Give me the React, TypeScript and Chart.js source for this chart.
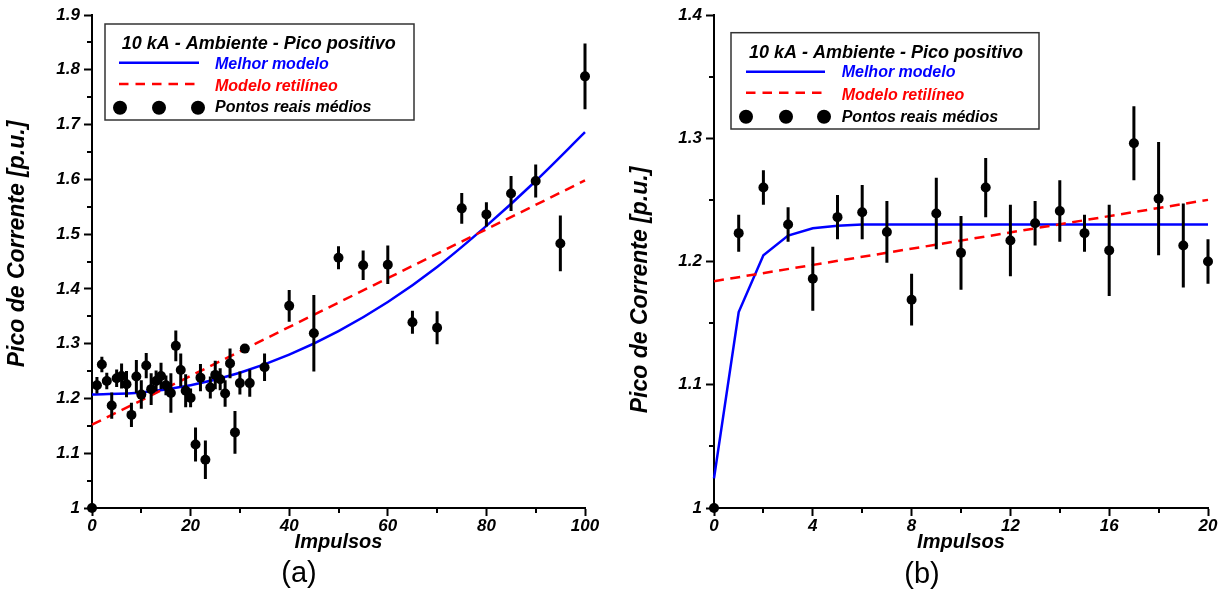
import React, { useEffect, useRef } from "react";
import { Chart, registerables } from "chart.js";
Chart.register(...registerables);

const FONT = "'Liberation Sans', Arial, Helvetica, sans-serif";

// ---------- (a) data ----------
const impulsosA = [0, 1, 2, 3, 4, 5, 6, 7, 8, 9, 10, 11, 12, 13, 14, 15, 16, 17, 18, 19, 20, 21, 22, 23, 24, 25, 26, 27, 28, 29, 30, 31, 32, 35, 40, 45, 50, 55, 60, 65, 70, 75, 80, 85, 90, 95, 100];
const picoA = [1.000, 1.224, 1.262, 1.232, 1.187, 1.237, 1.241, 1.226, 1.170, 1.240, 1.207, 1.260, 1.217, 1.232, 1.241, 1.224, 1.210, 1.296, 1.252, 1.214, 1.201, 1.116, 1.238, 1.088, 1.220, 1.243, 1.235, 1.209, 1.264, 1.138, 1.228, 1.291, 1.228, 1.257, 1.369, 1.319, 1.457, 1.443, 1.444, 1.339, 1.329, 1.547, 1.536, 1.574, 1.597, 1.483, 1.788];
const erroA = [0, 0.015, 0.014, 0.015, 0.024, 0.016, 0.023, 0.024, 0.022, 0.030, 0.026, 0.023, 0.029, 0.019, 0.024, 0.018, 0.036, 0.028, 0.030, 0.030, 0.017, 0.031, 0.025, 0.035, 0.020, 0.026, 0.020, 0.024, 0.027, 0.039, 0.021, 0.005, 0.025, 0.025, 0.029, 0.070, 0.021, 0.027, 0.035, 0.021, 0.030, 0.028, 0.022, 0.032, 0.030, 0.051, 0.060];
const melhorXA = [0, 10, 20, 30, 40, 50, 60, 70, 80, 90, 100];
const melhorYA = [1.207, 1.211, 1.224, 1.247, 1.280, 1.323, 1.376, 1.440, 1.515, 1.597, 1.686];
const retaXA = [0, 100];
const retaYA = [1.152, 1.598];
const xTicksA = [0, 20, 40, 60, 80, 100];
const xLabelsA = ["0", "20", "40", "60", "80", "100"];
const xMinorA = [10, 30, 50, 70, 90];
const yTicksA = [1, 1.1, 1.2, 1.3, 1.4, 1.5, 1.6, 1.7, 1.8, 1.9];
const yLabelsA = ["1", "1.1", "1.2", "1.3", "1.4", "1.5", "1.6", "1.7", "1.8", "1.9"];
const yMinorA = [1.05, 1.15, 1.25, 1.35, 1.45, 1.55, 1.65, 1.75, 1.85];

// ---------- (b) data ----------
const impulsosB = [0, 1, 2, 3, 4, 5, 6, 7, 8, 9, 10, 11, 12, 13, 14, 15, 16, 17, 18, 19, 20];
const picoB = [1.000, 1.223, 1.260, 1.230, 1.186, 1.236, 1.240, 1.224, 1.169, 1.239, 1.207, 1.260, 1.217, 1.231, 1.241, 1.223, 1.209, 1.296, 1.251, 1.213, 1.200];
const erroB = [0, 0.015, 0.014, 0.014, 0.026, 0.018, 0.022, 0.025, 0.021, 0.029, 0.030, 0.024, 0.029, 0.018, 0.025, 0.015, 0.037, 0.030, 0.046, 0.034, 0.018];
const melhorXB = [0, 1, 2, 3, 4, 5, 6, 7, 8, 9, 10, 11, 12, 13, 14, 15, 16, 17, 18, 19, 20];
const melhorYB = [1.024, 1.159, 1.205, 1.221, 1.227, 1.229, 1.230, 1.230, 1.230, 1.230, 1.230, 1.230, 1.230, 1.230, 1.230, 1.230, 1.230, 1.230, 1.230, 1.230, 1.230];
const retaXB = [0, 20];
const retaYB = [1.184, 1.250];
const xTicksB = [0, 4, 8, 12, 16, 20];
const xLabelsB = ["0", "4", "8", "12", "16", "20"];
const xMinorB = [2, 6, 10, 14, 18];
const yTicksB = [1, 1.1, 1.2, 1.3, 1.4];
const yLabelsB = ["1", "1.1", "1.2", "1.3", "1.4"];
const yMinorB = [1.05, 1.15, 1.25, 1.35];

// ---------- texts ----------
const legendTitle = "10 kA - Ambiente - Pico positivo";
const legendItems = ["Melhor modelo", "Modelo retilíneo", "Pontos reais médios"];
const xTitle = "Impulsos";
const yTitle = "Pico de Corrente [p.u.]";

const BLUE = "#0000ff";
const RED = "#ff0000";
const MAJOR = 8;
const MINOR = 5;

type Spec = {
  xs: number[]; ys: number[]; errs: number[];
  mx: number[]; my: number[]; tension: number;
  rx: number[]; ry: number[];
  xMax: number; yMax: number;
  xTicks: number[]; xLabels: string[]; xMinor: number[];
  yTicks: number[]; yLabels: string[]; yMinor: number[];
  padRight: number; yWidth: number;
  yTitlePos: [number, number];
  panel: string; panelPos: [number, number];
  leg: any;
};

function drawLegend(ctx: CanvasRenderingContext2D, L: any) {
  ctx.save();
  ctx.fillStyle = "#fff";
  ctx.fillRect(L.box[0], L.box[1], L.box[2] - L.box[0], L.box[3] - L.box[1]);
  ctx.strokeStyle = "#333";
  ctx.lineWidth = 1.5;
  ctx.strokeRect(L.box[0], L.box[1], L.box[2] - L.box[0], L.box[3] - L.box[1]);
  ctx.textAlign = "left";
  ctx.textBaseline = "alphabetic";
  ctx.fillStyle = "#000";
  ctx.font = `italic bold 18px ${FONT}`;
  ctx.fillText(legendTitle, L.titleX, L.titleBase);
  ctx.strokeStyle = BLUE;
  ctx.lineWidth = 2.5;
  ctx.beginPath();
  ctx.moveTo(L.lx0, L.rows[0]);
  ctx.lineTo(L.lx1, L.rows[0]);
  ctx.stroke();
  ctx.strokeStyle = RED;
  ctx.setLineDash([9.5, 7]);
  ctx.beginPath();
  ctx.moveTo(L.lx0, L.rows[1]);
  ctx.lineTo(L.lx1, L.rows[1]);
  ctx.stroke();
  ctx.setLineDash([]);
  ctx.fillStyle = "#000";
  for (const dx of L.dots) {
    ctx.beginPath();
    ctx.arc(dx, L.rows[2], 7, 0, Math.PI * 2);
    ctx.fill();
  }
  ctx.font = `italic bold 16px ${FONT}`;
  const cols = [BLUE, RED, "#000"];
  for (let i = 0; i < 3; i++) {
    ctx.fillStyle = cols[i];
    ctx.fillText(legendItems[i], L.tx, L.bases[i]);
  }
  ctx.restore();
}

function makeDecor(s: Spec) {
  return {
    id: "decor",
    beforeDatasetDraw(chart: any, args: any) {
      if (args.index !== 0) return;
      const ctx = chart.ctx;
      const xs = chart.scales.x;
      const ys = chart.scales.y;
      ctx.save();
      ctx.strokeStyle = "#000";
      ctx.lineWidth = 3;
      ctx.beginPath();
      for (let i = 0; i < s.xs.length; i++) {
        if (!s.errs[i]) continue;
        const px = xs.getPixelForValue(s.xs[i]);
        ctx.moveTo(px, ys.getPixelForValue(s.ys[i] - s.errs[i]));
        ctx.lineTo(px, ys.getPixelForValue(s.ys[i] + s.errs[i]));
      }
      ctx.stroke();
      ctx.restore();
    },
    afterDraw(chart: any) {
      const ctx = chart.ctx;
      const xs = chart.scales.x;
      const ys = chart.scales.y;
      const a = chart.chartArea;
      ctx.save();
      ctx.strokeStyle = "#000";
      ctx.lineWidth = 2;
      ctx.beginPath();
      for (const v of s.xMinor) {
        const px = Math.round(xs.getPixelForValue(v));
        ctx.moveTo(px, a.bottom);
        ctx.lineTo(px, a.bottom + MINOR);
      }
      for (const v of s.yMinor) {
        const py = Math.round(ys.getPixelForValue(v));
        ctx.moveTo(a.left, py);
        ctx.lineTo(a.left - MINOR, py);
      }
      ctx.stroke();
      ctx.fillStyle = "#000";
      ctx.font = `italic bold 23px ${FONT}`;
      ctx.textAlign = "center";
      ctx.textBaseline = "middle";
      ctx.translate(s.yTitlePos[0], s.yTitlePos[1]);
      ctx.rotate(-Math.PI / 2);
      ctx.fillText(yTitle, 0, 0);
      ctx.setTransform(1, 0, 0, 1, 0, 0);
      ctx.font = `29px ${FONT}`;
      ctx.fillText(s.panel, s.panelPos[0], s.panelPos[1]);
      ctx.restore();
      drawLegend(ctx, s.leg);
    },
  };
}

function buildConfig(s: Spec): any {
  const tickFont = { family: FONT, size: 17, weight: "bold", style: "italic" };
  return {
    type: "scatter",
    data: {
      datasets: [
        {
          label: legendItems[2],
          data: s.xs.map((x, i) => ({ x, y: s.ys[i] })),
          pointRadius: 5,
          pointBackgroundColor: "#000",
          pointBorderWidth: 0,
          showLine: false,
          clip: false,
          order: 0,
        },
        {
          label: legendItems[0],
          data: s.mx.map((x, i) => ({ x, y: s.my[i] })),
          showLine: true,
          borderColor: BLUE,
          borderWidth: 2.5,
          pointRadius: 0,
          tension: s.tension,
          cubicInterpolationMode: s.tension > 0 ? "monotone" : "default",
          clip: false,
          order: 2,
        },
        {
          label: legendItems[1],
          data: s.rx.map((x, i) => ({ x, y: s.ry[i] })),
          showLine: true,
          borderColor: RED,
          borderWidth: 2.5,
          borderDash: [10, 6.5],
          pointRadius: 0,
          clip: false,
          order: 1,
        },
      ],
    },
    options: {
      animation: false,
      responsive: false,
      devicePixelRatio: 1,
      events: [],
      layout: { padding: { left: 0, top: 15, right: s.padRight, bottom: 0 } },
      plugins: { legend: { display: false }, tooltip: { enabled: false }, title: { display: false } },
      scales: {
        x: {
          type: "linear",
          position: "bottom",
          min: 0,
          max: s.xMax,
          afterBuildTicks: (sc: any) => { sc.ticks = s.xTicks.map((v) => ({ value: v })); },
          afterFit: (sc: any) => { sc.height = 103; },
          ticks: {
            font: tickFont, color: "#000", padding: 0, maxRotation: 0, autoSkip: false,
            callback: (_v: any, i: number) => s.xLabels[i],
          },
          grid: { drawOnChartArea: false, drawTicks: true, tickLength: MAJOR, tickWidth: 2, tickColor: "#000" },
          border: { display: true, color: "#000", width: 2 },
          title: {
            display: true, text: xTitle, color: "#000",
            font: { family: FONT, size: 20, weight: "bold", style: "italic" },
            padding: { top: 0, bottom: 57 },
          },
        },
        y: {
          type: "linear",
          position: "left",
          min: 1,
          max: s.yMax,
          afterBuildTicks: (sc: any) => { sc.ticks = s.yTicks.map((v) => ({ value: v })); },
          afterFit: (sc: any) => { sc.width = s.yWidth; },
          ticks: {
            font: tickFont, color: "#000", padding: 4, autoSkip: false,
            callback: (_v: any, i: number) => s.yLabels[i],
          },
          grid: { drawOnChartArea: false, drawTicks: true, tickLength: MAJOR, tickWidth: 2, tickColor: "#000" },
          border: { display: true, color: "#000", width: 2 },
        },
      },
    },
    plugins: [makeDecor(s)],
  };
}

const specA: Spec = {
  xs: impulsosA, ys: picoA, errs: erroA,
  mx: melhorXA, my: melhorYA, tension: 0.4,
  rx: retaXA, ry: retaYA,
  xMax: 100, yMax: 1.9,
  xTicks: xTicksA, xLabels: xLabelsA, xMinor: xMinorA,
  yTicks: yTicksA, yLabels: yLabelsA, yMinor: yMinorA,
  padRight: 29, yWidth: 92,
  yTitlePos: [18, 244],
  panel: "(a)", panelPos: [299, 574],
  leg: {
    box: [105, 24, 414, 120], titleX: 121.7, titleBase: 49.3,
    lx0: 119, lx1: 199, rows: [62.7, 84, 107.7], dots: [120, 159, 198],
    tx: 215, bases: [69, 90.7, 112.3],
  },
};

const specB: Spec = {
  xs: impulsosB, ys: picoB, errs: erroB,
  mx: melhorXB, my: melhorYB, tension: 0,
  rx: retaXB, ry: retaYB,
  xMax: 20, yMax: 1.4,
  xTicks: xTicksB, xLabels: xLabelsB, xMinor: xMinorB,
  yTicks: yTicksB, yLabels: yLabelsB, yMinor: yMinorB,
  padRight: 20, yWidth: 100,
  yTitlePos: [27, 290],
  panel: "(b)", panelPos: [308, 575],
  leg: {
    box: [117, 32.7, 425, 129], titleX: 135, titleBase: 58.3,
    lx0: 132, lx1: 211, rows: [71.7, 92.7, 116.7], dots: [132, 172, 210],
    tx: 227.7, bases: [77.3, 100, 121.7],
  },
};

function Panel({ spec, left }: { spec: Spec; left: number }) {
  const ref = useRef<HTMLCanvasElement | null>(null);
  useEffect(() => {
    if (!ref.current) return;
    const chart = new Chart(ref.current, buildConfig(spec));
    return () => chart.destroy();
  }, [spec]);
  return (
    <div style={{ position: "absolute", left, top: 0, width: 614, height: 611 }}>
      <canvas ref={ref} width={614} height={611} style={{ display: "block", width: 614, height: 611 }} />
    </div>
  );
}

export default function App() {
  return (
    <div style={{ position: "absolute", left: 0, top: 0, width: 1228, height: 611, background: "#fff", overflow: "hidden" }}>
      <Panel spec={specA} left={0} />
      <Panel spec={specB} left={614} />
    </div>
  );
}
